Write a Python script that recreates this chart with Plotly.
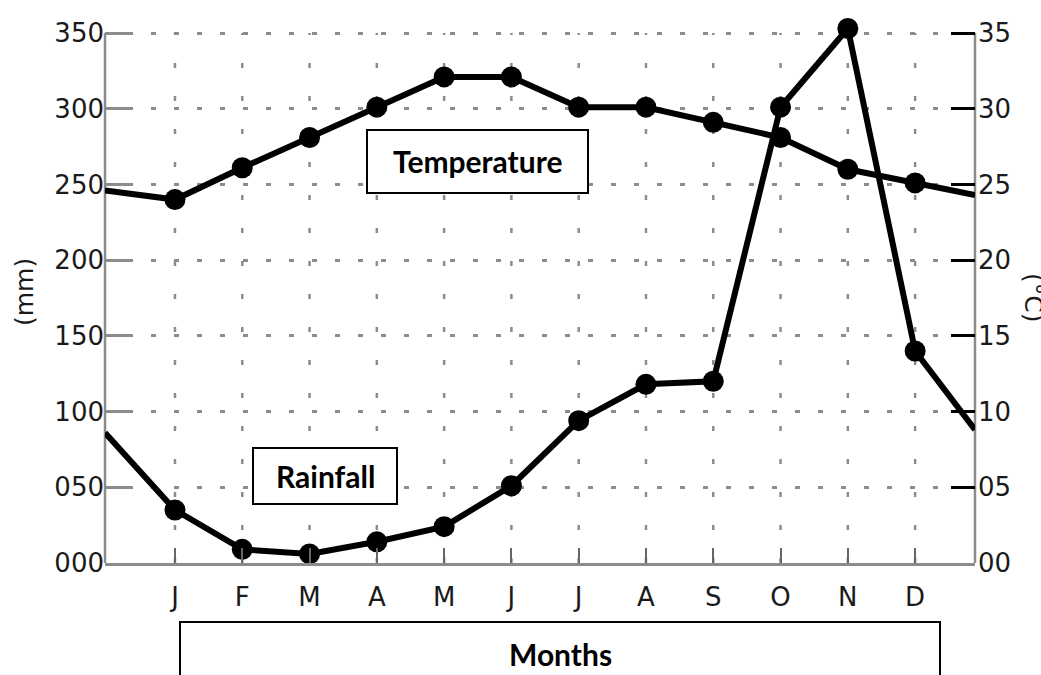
import plotly.graph_objects as go

# ---------------- data ----------------
months = ["J", "F", "M", "A", "M", "J", "J", "A", "S", "O", "N", "D"]
month_pos = [1, 2, 3, 4, 5, 6, 7, 8, 9, 10, 11, 12]
rainfall_mm = [35, 9, 6, 14, 24, 51, 94, 118, 120, 301, 353, 140]
temperature_c = [24.0, 26.1, 28.1, 30.1, 32.1, 32.1, 30.1, 30.1, 29.1, 28.1, 26.0, 25.1]
# values where the curves meet the left / right plot edges
rainfall_edges = [86, 88]
temperature_edges = [24.6, 24.3]

y_ticks = [0, 50, 100, 150, 200, 250, 300, 350]
y_ticktext = ["000", "050", "100", "150", "200", "250", "300", "350"]
y2_ticks = [0, 5, 10, 15, 20, 25, 30, 35]
y2_ticktext = ["00", "05", "10", "15", "20", "25", "30", "35"]

X_RANGE = [-0.04, 12.89]
Y_MAX = 350

# ---------------- figure ----------------
W, H = 1041, 675
L, R, T, B = 105, 66, 24, 112
PW, PH = W - L - R, H - T - B
AXIS_PX = 530                    # pixels between 000 and 350
Y_TOP = Y_MAX * PH / AXIS_PX     # a little headroom for the November peak


def px(x):
    return (x - L) / PW


def py(y):
    return (H - B - y) / PH


xs = [X_RANGE[0]] + month_pos + [X_RANGE[1]]
sizes = [0] + [21] * len(month_pos) + [0]

fig = go.Figure()
fig.add_trace(go.Scatter(
    x=xs, y=[rainfall_edges[0]] + rainfall_mm + [rainfall_edges[1]],
    mode="lines+markers", line=dict(color="black", width=6),
    marker=dict(size=sizes, color="black", opacity=1, line=dict(width=0)),
    cliponaxis=False, showlegend=False, name="Rainfall"))
fig.add_trace(go.Scatter(
    x=xs, y=[temperature_edges[0]] + temperature_c + [temperature_edges[1]],
    mode="lines+markers", line=dict(color="black", width=6),
    marker=dict(size=sizes, color="black", opacity=1, line=dict(width=0)),
    yaxis="y2", cliponaxis=False, showlegend=False, name="Temperature"))

tick_font = dict(family="DejaVu Sans", size=26, color="#1a1a1a")
grid_col = "#8c8c8c"

fig.update_layout(
    width=W, height=H,
    margin=dict(l=L, r=R, t=T, b=B),
    paper_bgcolor="white", plot_bgcolor="white",
    xaxis=dict(
        range=X_RANGE, tickmode="array", tickvals=month_pos, ticktext=months,
        tickfont=tick_font, ticks="inside", ticklen=15, tickwidth=2, tickcolor="#666",
        showline=True, linecolor=grid_col, linewidth=2.5,
        showgrid=False, zeroline=False, ticklabelstandoff=9,
    ),
    yaxis=dict(
        range=[0, Y_TOP], tickmode="array", tickvals=y_ticks, ticktext=y_ticktext,
        tickfont=tick_font, ticks="inside", ticklen=28, tickwidth=2.5, tickcolor=grid_col,
        showline=False,
        showgrid=True, gridcolor=grid_col, gridwidth=2.5, griddash="5px,18px",
        zeroline=False, ticklabelstandoff=0,
    ),
    yaxis2=dict(
        range=[0, Y_TOP / 10], tickmode="array", tickvals=y2_ticks, ticktext=y2_ticktext,
        tickfont=tick_font, ticks="inside", ticklen=24, tickwidth=3, tickcolor="black",
        showline=False, showgrid=False, zeroline=False, overlaying="y", side="right",
        ticklabelstandoff=2,
    ),
)

shapes = []
# vertical dotted grid lines and side axis lines, stopping at 350
for m in month_pos:
    shapes.append(dict(type="line", xref="x", yref="y", x0=m, x1=m, y0=0, y1=Y_MAX,
                       line=dict(color=grid_col, width=2.5, dash="5px,28px"), layer="below"))
for xp in (0, 1):
    shapes.append(dict(type="line", xref="paper", yref="y", x0=xp, x1=xp, y0=0, y1=Y_MAX,
                       line=dict(color=grid_col, width=2.5), layer="below"))

box_line = dict(color="black", width=2)
shapes += [
    dict(type="rect", xref="paper", yref="paper", x0=px(367), x1=px(588), y0=py(193), y1=py(130),
         line=box_line, fillcolor="white", layer="above"),
    dict(type="rect", xref="paper", yref="paper", x0=px(253), x1=px(397), y0=py(504), y1=py(448),
         line=box_line, fillcolor="white", layer="above"),
    dict(type="rect", xref="paper", yref="paper", x0=px(180), x1=px(940), y0=py(700), y1=py(622),
         line=box_line, fillcolor="white", layer="above"),
]
fig.update_layout(shapes=shapes)

label_font = dict(family="Lato", size=30, color="black", weight="bold")
title_font = dict(family="DejaVu Sans", size=25, color="#1a1a1a")
annotations = [
    dict(text="<b>Temperature</b>", x=px(477), y=py(161), font=label_font),
    dict(text="<b>Rainfall</b>", x=px(325), y=py(476), font=label_font),
    dict(text="<b>Months</b>", x=px(560), y=py(654), font=label_font),
    dict(text="(mm)", x=px(24), y=py(292), textangle=-90, font=title_font),
    dict(text="(°C)", x=px(1034), y=py(297), textangle=90, font=title_font),
]
for a in annotations:
    a.update(xref="paper", yref="paper", showarrow=False, xanchor="center", yanchor="middle")
fig.update_layout(annotations=annotations)

fig.write_html("out.html", config={"displayModeBar": False},
               post_script="document.body.style.margin='0';")
